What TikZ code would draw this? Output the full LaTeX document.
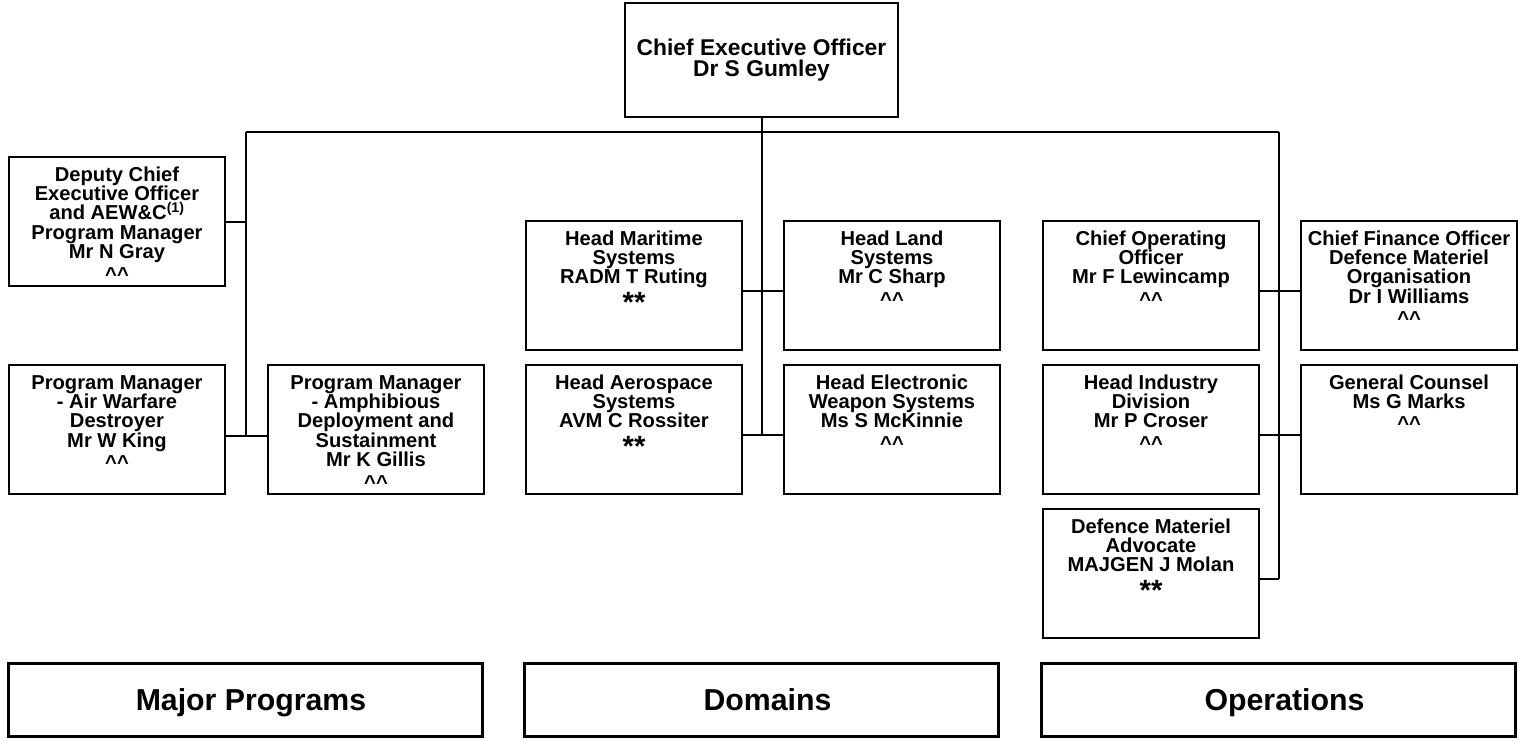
\documentclass[tikz,border=0pt]{standalone}
\usepackage{fontspec}
\setmainfont{Liberation Sans}

\newcommand{\posttext}[1]{\parbox[c][96.75pt][t]{162pt}{\centering\rule{0pt}{18pt}#1}}
\newcommand{\hats}{\raisebox{-2pt}[0pt][0pt]{\textasciicircum\textasciicircum}}
\newcommand{\stars}{\raisebox{-7pt}[0pt][0pt]{\fontsize{22}{22}\selectfont **}}

\tikzset{
  postbox/.style={draw, line width=1.5pt, inner sep=0pt, anchor=north west,
    font=\fontsize{15.1}{14.6}\selectfont\bfseries},
  topbox/.style={draw, line width=1.5pt, minimum width=204.75pt, minimum height=85.5pt,
    align=center, font=\fontsize{17.1}{15.4}\selectfont\bfseries},
  groupbox/.style={draw, line width=2.25pt, minimum width=355.5pt, minimum height=54.75pt,
    text height=20pt, text depth=4.2pt, execute at begin node=\hspace*{9pt},
    font=\fontsize{22.7}{27}\selectfont\bfseries},
  link/.style={line width=1.5pt}
}

\begin{document}
\begin{tikzpicture}[x=0.75pt, y=-0.75pt]
  \useasboundingbox (0,0) rectangle (1518,740);

  \node[topbox] (ceo) at (761.5,60) {Chief Executive Officer\\Dr S Gumley};

  % major programs
  \node[postbox] (dep) at (8,156) {\posttext{Deputy Chief\\Executive Officer\\and AEW\&C\textsuperscript{(1)}\\Program Manager\\Mr N Gray\\\hats}};
  \node[postbox] (awd) at (8,364) {\posttext{Program Manager\\- Air Warfare\\Destroyer\\Mr W King\\\hats}};
  \node[postbox] (amph) at (267,364) {\posttext{Program Manager\\- Amphibious\\Deployment and\\Sustainment\\Mr K Gillis\\\hats}};

  % domains
  \node[postbox] (mari) at (525,220) {\posttext{Head Maritime\\Systems\\RADM T Ruting\\\stars}};
  \node[postbox] (land) at (783,220) {\posttext{Head Land\\Systems\\Mr C Sharp\\\hats}};
  \node[postbox] (aero) at (525,364) {\posttext{Head Aerospace\\Systems\\AVM C Rossiter\\\stars}};
  \node[postbox] (elec) at (783,364) {\posttext{Head Electronic\\Weapon Systems\\Ms S McKinnie\\\hats}};

  % operations
  \node[postbox] (coo) at (1042,220) {\posttext{Chief Operating\\Officer\\Mr F Lewincamp\\\hats}};
  \node[postbox] (cfo) at (1300,220) {\posttext{Chief Finance Officer\\Defence Materiel\\Organisation\\Dr I Williams\\\hats}};
  \node[postbox] (ind) at (1042,364) {\posttext{Head Industry\\Division\\Mr P Croser\\\hats}};
  \node[postbox] (gc) at (1300,364) {\posttext{General Counsel\\Ms G Marks\\\hats}};
  \node[postbox] (dma) at (1042,508) {\posttext{Defence Materiel\\Advocate\\MAJGEN J Molan\\\stars}};

  % group names
  \node[groupbox] (progs) at (245,699.5) {Major Programs};
  \node[groupbox] (doms) at (761.5,699.5) {Domains};
  \node[groupbox] (ops) at (1278.5,699.5) {Operations};

  % bus
  \coordinate (busL) at (245.5,132);
  \coordinate (busR) at (1278.5,132);
  \draw[link] (busL) -- (busR);

  % left side
  \coordinate (awdB) at ([yshift=-4.5pt]awd.east);
  \draw[link] (busL) -- (busL |- awdB);
  \draw[link] (dep.east) -- (dep.east -| busL);
  \draw[link] (awdB) -- ([yshift=-4.5pt]amph.west);

  % middle
  \coordinate (aeroB) at ([yshift=-4pt]aero.east);
  \draw[link] (ceo.south) -- (ceo.south |- aeroB);
  \draw[link] ([yshift=-4pt]mari.east) -- ([yshift=-4pt]land.west);
  \draw[link] (aeroB) -- ([yshift=-4pt]elec.west);

  % right side
  \coordinate (dmaC) at ([yshift=-4pt]dma.east);
  \draw[link] (busR) -- (busR |- dmaC);
  \draw[link] ([yshift=-4pt]coo.east) -- ([yshift=-4pt]cfo.west);
  \draw[link] ([yshift=-4pt]ind.east) -- ([yshift=-4pt]gc.west);
  \draw[link] (dmaC) -- (busR |- dmaC);
\end{tikzpicture}
\end{document}
